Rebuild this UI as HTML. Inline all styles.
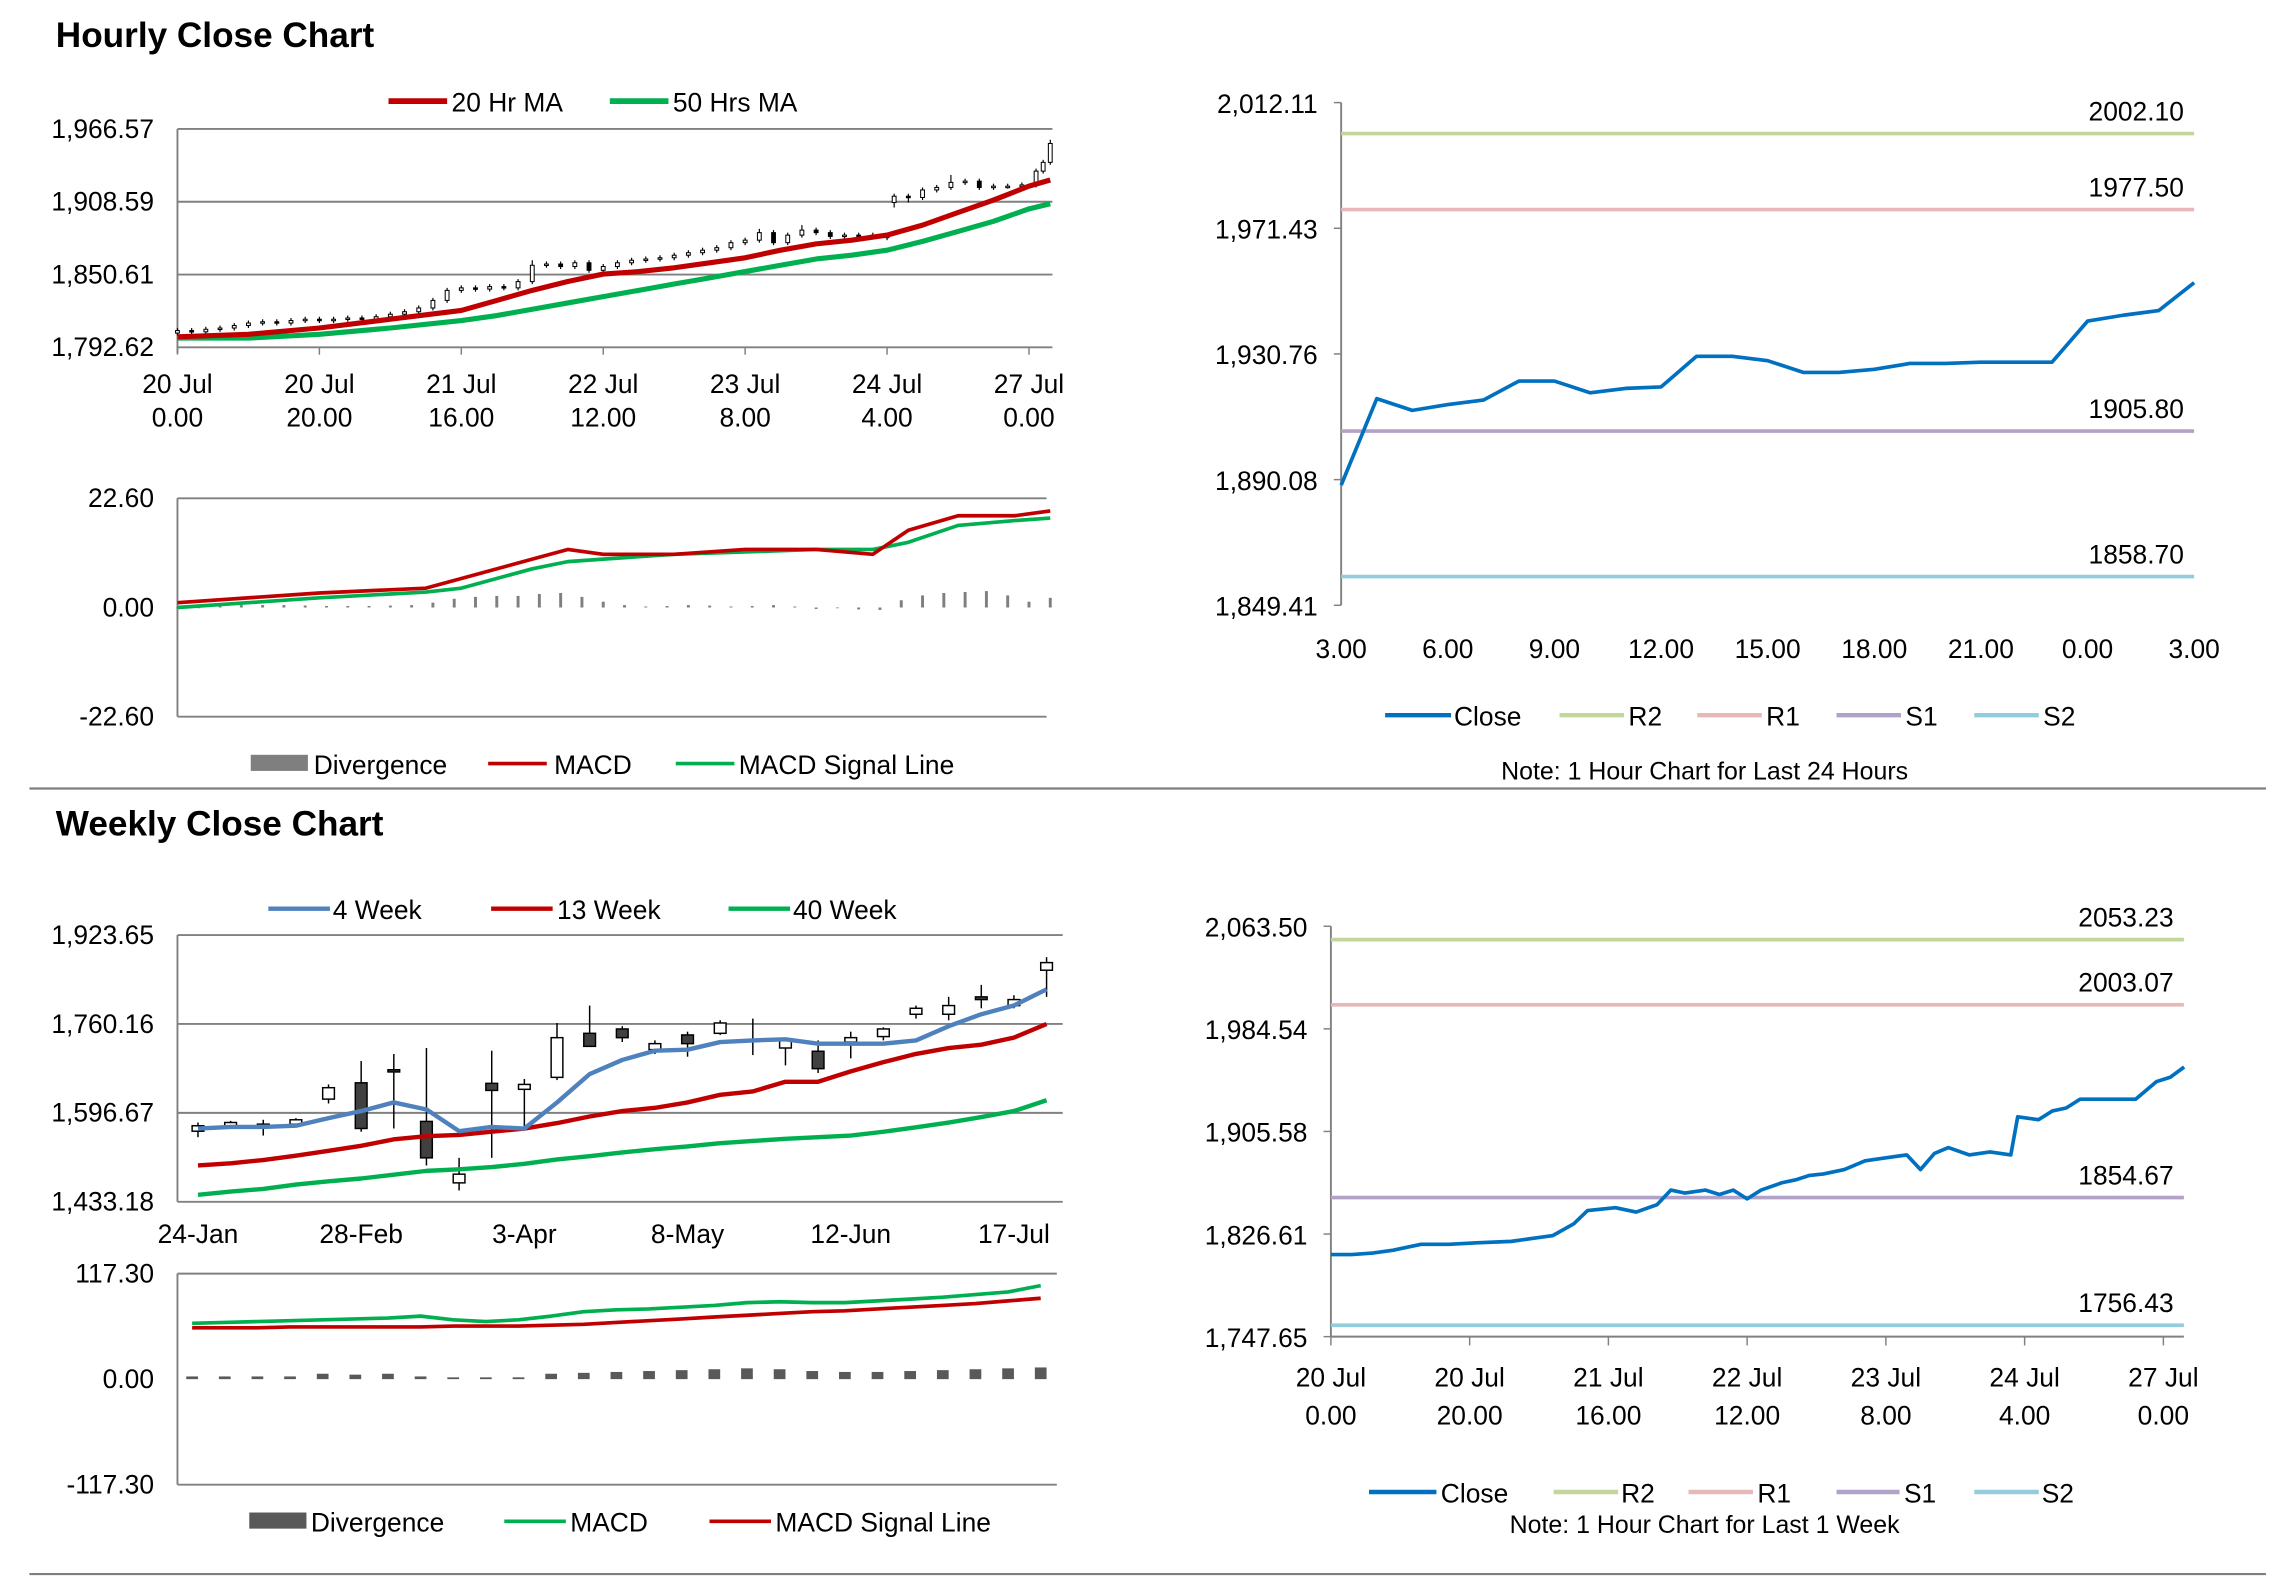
<!DOCTYPE html>
<html><head><meta charset="utf-8"><style>
html,body{margin:0;padding:0;background:#fff;}
svg{display:block;font-family:"Liberation Sans Narrow","Liberation Sans",sans-serif;}
.t{font-size:18px;fill:#000;}
.h{font-size:24px;font-weight:bold;fill:#000;font-family:"Liberation Sans",sans-serif;}
</style></head><body>
<svg id="root" width="2291" height="1577" viewBox="0 0 1563 1076" xmlns="http://www.w3.org/2000/svg">
<rect width="1563" height="1076" fill="#fff"/>
<text class="h" x="38" y="32">Hourly Close Chart</text>
<text class="h" x="38" y="570">Weekly Close Chart</text>
<line x1="20" y1="538" x2="1546" y2="538" stroke="#7f7f7f" stroke-width="1.5"/>
<line x1="20" y1="1074" x2="1546" y2="1074" stroke="#7f7f7f" stroke-width="1.5"/>

<g>
<line x1="265" y1="69" x2="305" y2="69" stroke="#c00000" stroke-width="4"/><text class="t" x="308" y="76">20 Hr MA</text>
<line x1="416" y1="69" x2="456" y2="69" stroke="#00b050" stroke-width="4"/><text class="t" x="459" y="76">50 Hrs MA</text>
</g>
<g>
<rect x="171" y="515" width="39" height="11" fill="#7f7f7f"/><text class="t" x="214" y="528">Divergence</text>
<line x1="333" y1="521" x2="373" y2="521" stroke="#c00000" stroke-width="2.5"/><text class="t" x="378" y="528">MACD</text>
<line x1="461" y1="521" x2="501" y2="521" stroke="#00b050" stroke-width="2.5"/><text class="t" x="504" y="528">MACD Signal Line</text>
</g>
<g>
<line x1="945" y1="488" x2="990" y2="488" stroke="#0070c0" stroke-width="3"/><text class="t" x="992" y="495">Close</text>
<line x1="1064" y1="488" x2="1108" y2="488" stroke="#c3d69b" stroke-width="3"/><text class="t" x="1111" y="495">R2</text>
<line x1="1158" y1="488" x2="1202" y2="488" stroke="#e6b9b8" stroke-width="3"/><text class="t" x="1205" y="495">R1</text>
<line x1="1253" y1="488" x2="1297" y2="488" stroke="#b3a2c7" stroke-width="3"/><text class="t" x="1300" y="495">S1</text>
<line x1="1347" y1="488" x2="1391" y2="488" stroke="#93cddd" stroke-width="3"/><text class="t" x="1394" y="495">S2</text>
<text class="t" x="1163" y="532" text-anchor="middle" style="font-size:17px">Note: 1 Hour Chart for Last 24 Hours</text>
</g>
<g>
<line x1="183" y1="620" x2="225" y2="620" stroke="#4f81bd" stroke-width="3"/><text class="t" x="227" y="627">4 Week</text>
<line x1="335" y1="620" x2="377" y2="620" stroke="#c00000" stroke-width="3"/><text class="t" x="380" y="627">13 Week</text>
<line x1="497" y1="620" x2="539" y2="620" stroke="#00b050" stroke-width="3"/><text class="t" x="541" y="627">40 Week</text>
</g>
<g>
<rect x="170" y="1032" width="39" height="11" fill="#595959"/><text class="t" x="212" y="1045">Divergence</text>
<line x1="344" y1="1038" x2="386" y2="1038" stroke="#00b050" stroke-width="2.5"/><text class="t" x="389" y="1045">MACD</text>
<line x1="484" y1="1038" x2="526" y2="1038" stroke="#c00000" stroke-width="2.5"/><text class="t" x="529" y="1045">MACD Signal Line</text>
</g>
<g>
<line x1="934" y1="1018" x2="980" y2="1018" stroke="#0070c0" stroke-width="3"/><text class="t" x="983" y="1025">Close</text>
<line x1="1060" y1="1018" x2="1104" y2="1018" stroke="#c3d69b" stroke-width="3"/><text class="t" x="1106" y="1025">R2</text>
<line x1="1152" y1="1018" x2="1196" y2="1018" stroke="#e6b9b8" stroke-width="3"/><text class="t" x="1199" y="1025">R1</text>
<line x1="1253" y1="1018" x2="1296" y2="1018" stroke="#b3a2c7" stroke-width="3"/><text class="t" x="1299" y="1025">S1</text>
<line x1="1347" y1="1018" x2="1391" y2="1018" stroke="#93cddd" stroke-width="3"/><text class="t" x="1393" y="1025">S2</text>
<text class="t" x="1163" y="1046" text-anchor="middle" style="font-size:17px">Note: 1 Hour Chart for Last 1 Week</text>
</g>
</svg>
<script>
// ---------- Hourly candle chart data ----------
const hourlyTickHours = [0,20,40,60,80,100,120];
const hourlyTickLine1 = ["20 Jul","20 Jul","21 Jul","22 Jul","23 Jul","24 Jul","27 Jul"];
const hourlyTickLine2 = ["0.00","20.00","16.00","12.00","8.00","4.00","0.00"];
const hourlyYTicks = [1792.62,1850.61,1908.59,1966.57];
const maHours = [0,10,20,30,40,45,50,55,60,65,70,75,80,85,90,95,100,105,110,115,120,123];
const ma20 = [1801,1803,1808,1815,1822,1830,1838,1845,1851,1853,1856,1860,1864,1870,1875,1878,1882,1890,1900,1910,1921,1926];
const ma50 = [1800,1800,1803,1808,1814,1818,1823,1828,1833,1838,1843,1848,1853,1858,1863,1866,1870,1877,1885,1893,1903,1907];
const hcHours = [0,2,4,6,8,10,12,14,16,18,20,22,24,26,28,30,32,34,36,38,40,42,44,46,48,50,52,54,56,58,60,62,64,66,68,70,72,74,76,78,80,82,84,86,88,90,92,94,96,98,100,101,103,105,107,109,111,113,115,117,119,121,122,123];
const hcOpen = [1804,1806,1805,1807,1808,1810,1812,1813,1812,1814,1815,1814,1815,1816,1815,1817,1819,1821,1824,1830,1838,1840,1839,1841,1840,1845,1858,1859,1857,1860,1854,1857,1860,1862,1863,1864,1866,1868,1870,1872,1876,1878,1884,1876,1882,1886,1884,1881,1882,1881,1882,1908,1913,1912,1918,1920,1924,1925,1920,1921,1921,1922,1933,1940];
const hcClose = [1806,1805,1807,1808,1810,1812,1813,1812,1814,1815,1814,1815,1816,1815,1817,1819,1821,1824,1830,1838,1840,1839,1841,1840,1845,1858,1859,1857,1860,1854,1857,1860,1862,1863,1864,1866,1868,1870,1872,1876,1878,1884,1876,1882,1886,1884,1881,1882,1881,1882,1880,1913,1912,1918,1920,1924,1925,1920,1921,1921,1922,1933,1940,1955];
const hcHigh = [1808,1808,1809,1810,1812,1814,1815,1815,1816,1817,1817,1817,1818,1818,1819,1821,1823,1826,1832,1840,1842,1842,1843,1843,1847,1862,1861,1861,1862,1862,1859,1862,1864,1865,1866,1868,1870,1872,1874,1878,1880,1887,1886,1884,1890,1888,1886,1884,1884,1884,1884,1915,1915,1920,1922,1930,1927,1927,1923,1923,1924,1935,1942,1958];
const hcLow = [1802,1803,1803,1805,1806,1808,1810,1810,1810,1812,1812,1812,1813,1813,1813,1815,1817,1819,1822,1828,1836,1837,1837,1838,1838,1843,1856,1855,1855,1852,1852,1855,1858,1860,1861,1862,1864,1866,1868,1870,1874,1876,1874,1874,1880,1882,1879,1879,1879,1879,1878,1904,1908,1910,1916,1918,1922,1918,1918,1919,1919,1920,1931,1938];
// ---------- Hourly MACD ----------
const hmYTicks = [-22.60,0.00,22.60];
const hmHours = [0,20,35,40,50,55,60,70,80,90,98,103,110,118,123];
const hMacd = [1,3,4,6,10,12,11,11,12,12,11,16,19,19,20];
const hSignal = [0,2,3.2,4,8,9.5,10,11,11.5,12,12,13.5,17,18,18.5];
const hDivStep = 3;
const hDiv = [0,0,0.3,0.5,0.5,0.5,0.4,0.3,0.3,0.3,0.4,0.5,1,1.8,2.2,2.4,2.4,2.8,3,2.2,1.2,0.5,0.2,0.3,0.5,0.4,0.2,0.3,0.5,0.2,-0.3,0,-0.4,-0.5,1.5,2.5,3,3.2,3.4,2.5,1.2,2];
// ---------- 24h pivot chart ----------
const p24YTicks = [1849.41,1890.08,1930.76,1971.43,2012.11];
const p24XLabels = ["3.00","6.00","9.00","12.00","15.00","18.00","21.00","0.00","3.00"];
const p24Close = [1888.3,1916.3,1912.5,1914.4,1915.8,1922.0,1922.0,1918.2,1919.6,1920.1,1930.0,1930.0,1928.6,1924.8,1924.8,1925.8,1927.7,1927.7,1928.1,1928.1,1928.1,1941.4,1943.3,1944.8,1953.8];
const p24Levels = [2002.10,1977.50,1905.80,1858.70];
const p24LevelNames = ["r2","r1","s1","s2"];
// ---------- Weekly candle chart ----------
const wYTicks = [1433.18,1596.67,1760.16,1923.65];
const wXLabels = ["24-Jan","28-Feb","3-Apr","8-May","12-Jun","17-Jul"];
const wXLabelIdx = [0,5,10,15,20,25];
const wOpen = [1563,1571,1576,1576,1622,1652,1676,1581,1468,1651,1640,1662,1743,1751,1713,1740,1743,1730,1716,1710,1727,1737,1778,1778,1810,1794,1859];
const wClose = [1573,1579,1576,1584,1643,1568,1673,1514,1484,1638,1649,1735,1719,1735,1724,1724,1762,1732,1732,1678,1735,1751,1789,1794,1805,1805,1873];
const wHigh = [1579,1582,1584,1587,1649,1692,1705,1716,1514,1711,1659,1762,1794,1756,1730,1746,1767,1770,1735,1730,1746,1754,1794,1810,1832,1813,1883];
const wLow = [1552,1568,1555,1573,1614,1562,1568,1500,1454,1514,1568,1657,1719,1727,1705,1700,1740,1703,1684,1670,1697,1730,1770,1767,1789,1789,1810];
const w4 = [1568,1571,1571,1573,1587,1600,1616,1603,1563,1571,1568,1616,1668,1694,1711,1713,1727,1730,1732,1724,1724,1724,1730,1756,1778,1794,1824];
const w13 = [1500,1504,1510,1518,1527,1536,1548,1554,1556,1562,1568,1578,1590,1600,1606,1616,1630,1636,1654,1654,1673,1690,1705,1716,1722,1735,1760];
const w40 = [1446,1452,1457,1465,1471,1476,1483,1490,1493,1497,1503,1511,1517,1524,1530,1535,1541,1545,1549,1552,1555,1562,1570,1579,1589,1600,1620];
// ---------- Weekly MACD ----------
const wmYTicks = [-117.30,0.00,117.30];
const wMacd = [62,63,64,65,66,67,68,70,66,64,66,70,75,77,78,80,82,85,86,85,85,87,89,91,94,97,104];
const wSignal = [57,57,57,58,58,58,58,58,59,59,59,60,61,63,65,67,69,71,73,75,76,78,80,82,84,87,90];
const wDiv = [3,3,3,3,6,5,6,3,2,2,2,6,7,8,9,10,11,12,11,9,8,8,9,10,11,12,13];
// ---------- Weekly pivot chart ----------
const pwYTicks = [1747.65,1826.61,1905.58,1984.54,2063.50];
const pwXLine1 = ["20 Jul","20 Jul","21 Jul","22 Jul","23 Jul","24 Jul","27 Jul"];
const pwXLine2 = ["0.00","20.00","16.00","12.00","8.00","4.00","0.00"];
const pwXHours = [0,20,40,60,80,100,120];
const pwHours = [0,3,6,9,13,17,21,26,29,32,35,37,41,44,47,49,51,54,56,58,60,62,65,67,69,71,74,77,80,83,85,87,89,92,95,98,99,102,104,106,108,112,116,119,121,123];
const pwClose = [1810.8,1810.8,1812,1814.2,1818.7,1818.7,1819.9,1821,1823.2,1825.5,1834.5,1844.7,1846.9,1843.5,1849.2,1860.5,1858.2,1860.5,1857.1,1860.5,1853.7,1860.5,1866.1,1868.4,1871.7,1872.9,1876.3,1883,1885.3,1887.5,1876.3,1888.7,1893.2,1887.5,1889.8,1887.5,1916.9,1914.6,1921.4,1923.6,1930.4,1930.4,1930.4,1943.9,1947.3,1955.2];
const pwLevels = [2053.23,2003.07,1854.67,1756.43];
const pwLevelNames = ["r2","r1","s1","s2"];

const NS = 'http://www.w3.org/2000/svg';
const root = document.getElementById('root');
function mk(tag, attrs, parent) {
  const e = document.createElementNS(NS, tag);
  for (const k in attrs) e.setAttribute(k, attrs[k]);
  (parent || root).appendChild(e);
  return e;
}
function txt(s, x, y, anchor, parent) {
  const e = mk('text', {x: x, y: y, 'class': 't', 'text-anchor': anchor || 'start'}, parent);
  e.textContent = s;
  return e;
}
function lin(d0, d1, r0, r1) { return v => r0 + (v - d0) / (d1 - d0) * (r1 - r0); }
function fmt(v) { return v.toLocaleString('en-US', {minimumFractionDigits: 2, maximumFractionDigits: 2}); }
function path(xs, ys, color, w, parent) {
  let d = '';
  for (let i = 0; i < xs.length; i++) d += (i ? 'L' : 'M') + xs[i].toFixed(1) + ',' + ys[i].toFixed(1);
  return mk('path', {d: d, fill: 'none', stroke: color, 'stroke-width': w, 'stroke-linejoin': 'round'}, parent);
}

// ===== Hourly candle chart =====
(function () {
  const g = mk('g', {});
  
  
  const X = lin(0, 120, 121, 702), Y = lin(1792.62, 1966.57, 237, 88);
  hourlyYTicks.forEach(v => {
    const l = mk('line', {x1: 121, x2: 718, y1: Y(v), y2: Y(v), stroke: '#808080', 'stroke-width': 1.3}, g);
    
    
    const t = txt(fmt(v), 105, Y(v) + 6, 'end', g);
    
    
  });
  mk('line', {x1: 121, x2: 121, y1: 88, y2: 241, stroke: '#808080', 'stroke-width': 1.3}, g);
  hourlyTickHours.forEach((h, i) => {
    mk('line', {x1: X(h), x2: X(h), y1: 237, y2: 242, stroke: '#808080'}, g);
    const a = txt(hourlyTickLine1[i], X(h), 268, 'middle', g);
    
    
    const b = txt(hourlyTickLine2[i], X(h), 291, 'middle', g);
    
    
  });
  hcHours.forEach((h, i) => {
    const x = X(h);
    const c = mk('g', {}, g);
    
    
    mk('line', {x1: x, x2: x, y1: Y(hcHigh[i]), y2: Y(hcLow[i]), stroke: '#000', 'stroke-width': 0.8}, c);
    const top = Y(Math.max(hcOpen[i], hcClose[i])), bot = Y(Math.min(hcOpen[i], hcClose[i]));
    mk('rect', {x: x - 1.3, y: top, width: 2.6, height: Math.max(1, bot - top), fill: hcClose[i] >= hcOpen[i] ? '#fff' : '#000', stroke: '#000', 'stroke-width': 0.7}, c);
  });
  const p1 = path(maHours.map(X), ma50.map(Y), '#00b050', 3.5, g);
  
  
  const p2 = path(maHours.map(X), ma20.map(Y), '#c00000', 3.5, g);
  
  
})();

// ===== Hourly MACD =====
(function () {
  const g = mk('g', {});
  
  
  const X = lin(0, 120, 121, 702), Y = lin(-22.6, 22.6, 489, 340);
  [22.6, -22.6].forEach(v => mk('line', {x1: 121, x2: 714, y1: Y(v), y2: Y(v), stroke: '#808080', 'stroke-width': 1.3}, g));
  mk('line', {x1: 121, x2: 121, y1: 340, y2: 489, stroke: '#808080', 'stroke-width': 1.3}, g);
  hmYTicks.forEach(v => {
    const t = txt(fmt(v), 105, Y(v) + 6, 'end', g);
    
    
  });
  hDiv.forEach((v, i) => {
    const y0 = Y(0), y1 = Y(v);
    const r = mk('rect', {x: X(i * hDivStep) - 1, y: Math.min(y0, y1), width: 2, height: Math.max(0.5, Math.abs(y1 - y0)), fill: '#7f7f7f'}, g);
    
    
  });
  const s = path(hmHours.map(X), hSignal.map(Y), '#00b050', 2.5, g);
  
  
  const m = path(hmHours.map(X), hMacd.map(Y), '#c00000', 2.5, g);
  
  
})();

// ===== Pivot charts =====
function pivot(name, x0, x1, y0, y1, yTicks, levels, levelNames, xs, ys, xLabelFn) {
  const g = mk('g', {});
  
  
  const Y = lin(yTicks[0], yTicks[yTicks.length - 1], y1, y0);
  mk('line', {x1: x0, x2: x0, y1: y0, y2: y1, stroke: '#808080', 'stroke-width': 1.3}, g);
  yTicks.forEach(v => {
    mk('line', {x1: x0 - 5, x2: x0, y1: Y(v), y2: Y(v), stroke: '#808080'}, g);
    const t = txt(fmt(v), x0 - 16, Y(v) + 7, 'end', g);
    
    
  });
  const cols = ['#c3d69b', '#e6b9b8', '#b3a2c7', '#93cddd'];
  levels.forEach((v, i) => {
    const l = mk('line', {x1: x0, x2: x1, y1: Y(v), y2: Y(v), stroke: cols[i], 'stroke-width': 2.5}, g);
    
    
    const t = txt(v.toFixed(2), x1 - 7, Y(v) - 9, 'end', g);
    
    
  });
  xLabelFn(g);
  const p = path(xs, ys.map(Y), '#0070c0', 2.5, g);
  
  
}
(function () {
  const X = lin(0, 24, 915, 1497);
  pivot('hourly-pivot-chart', 915, 1497, 70, 413, p24YTicks, p24Levels, p24LevelNames,
    p24Close.map((v, i) => X(i)), p24Close, g => {
      p24XLabels.forEach((s, i) => {
        const t = txt(s, X(i * 3), 449, 'middle', g);
        
        
      });
    });
})();
(function () {
  const X = lin(0, 120, 908, 1476);
  pivot('weekly-pivot-chart', 908, 1490, 632, 912, pwYTicks, pwLevels, pwLevelNames,
    pwHours.map(X), pwClose, g => {
      mk('line', {x1: 908, x2: 1490, y1: 912, y2: 912, stroke: '#808080', 'stroke-width': 1.3}, g);
      pwXHours.forEach((h, i) => {
        mk('line', {x1: X(h), x2: X(h), y1: 912, y2: 918, stroke: '#808080'}, g);
        const a = txt(pwXLine1[i], X(h), 946, 'middle', g);
        
        
        const b = txt(pwXLine2[i], X(h), 972, 'middle', g);
        
        
      });
    });
})();

// ===== Weekly candle chart =====
(function () {
  const g = mk('g', {});
  
  
  const X = lin(0, 26, 135, 714), Y = lin(1433.18, 1923.65, 820, 638);
  wYTicks.forEach(v => {
    mk('line', {x1: 121, x2: 725, y1: Y(v), y2: Y(v), stroke: '#808080', 'stroke-width': 1.3}, g);
    const t = txt(fmt(v), 105, Y(v) + 6, 'end', g);
    
    
  });
  mk('line', {x1: 121, x2: 121, y1: 638, y2: 820, stroke: '#808080', 'stroke-width': 1.3}, g);
  wXLabels.forEach((s, i) => {
    const t = txt(s, X(wXLabelIdx[i]), 848, 'middle', g);
    
    
  });
  wOpen.forEach((o, i) => {
    const x = X(i);
    const c = mk('g', {}, g);
    
    
    mk('line', {x1: x, x2: x, y1: Y(wHigh[i]), y2: Y(wLow[i]), stroke: '#000', 'stroke-width': 1}, c);
    const top = Y(Math.max(o, wClose[i])), bot = Y(Math.min(o, wClose[i]));
    mk('rect', {x: x - 4, y: top, width: 8, height: Math.max(1.5, bot - top), fill: wClose[i] >= o ? '#fff' : '#404040', stroke: '#000', 'stroke-width': 1}, c);
  });
  const xs = w4.map((v, i) => X(i));
  const a = path(xs, w40.map(Y), '#00b050', 3, g);
  
  
  const b = path(xs, w13.map(Y), '#c00000', 3, g);
  
  
  const c = path(xs, w4.map(Y), '#4f81bd', 3, g);
  
  
})();

// ===== Weekly MACD =====
(function () {
  const g = mk('g', {});
  
  
  const X = lin(0, 26, 131, 710), Y = lin(-117.3, 117.3, 1013, 869);
  [117.3, -117.3].forEach(v => mk('line', {x1: 121, x2: 721, y1: Y(v), y2: Y(v), stroke: '#808080', 'stroke-width': 1.3}, g));
  mk('line', {x1: 121, x2: 121, y1: 869, y2: 1013, stroke: '#808080', 'stroke-width': 1.3}, g);
  wmYTicks.forEach(v => {
    const t = txt(fmt(v), 105, Y(v) + 6, 'end', g);
    
    
  });
  wDiv.forEach((v, i) => {
    const r = mk('rect', {x: X(i) - 4, y: Y(v), width: 8, height: Y(0) - Y(v), fill: '#595959'}, g);
    
    
  });
  const xs = wMacd.map((v, i) => X(i));
  const s = path(xs, wSignal.map(Y), '#c00000', 2.5, g);
  
  
  const m = path(xs, wMacd.map(Y), '#00b050', 2.5, g);
  
  
})();
</script>
</body></html>
